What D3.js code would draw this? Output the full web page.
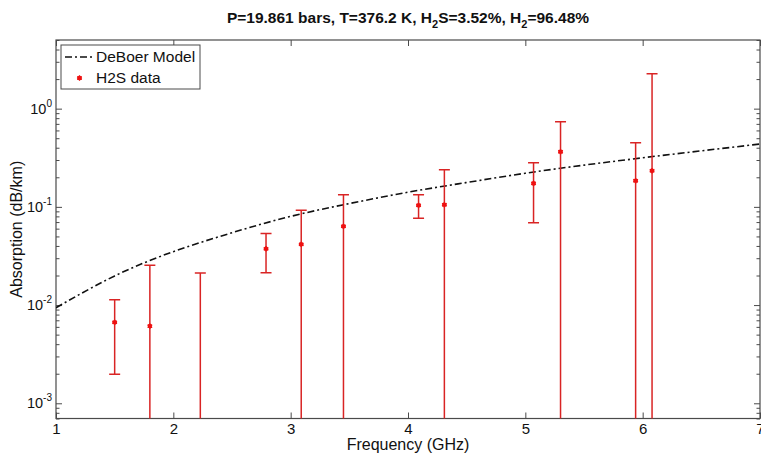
<!DOCTYPE html>
<html>
<head>
<meta charset="utf-8">
<script src="https://cdn.jsdelivr.net/npm/d3@7"></script>
<style>
  html, body { margin: 0; padding: 0; background: #fff; }
  svg { display: block; font-family: "Liberation Sans", Arial, sans-serif; }
</style>
</head>
<body>
<svg id="chart" width="761" height="457"></svg>
<script>
// Measured absorption of H2S/H2 mixture with 1-sigma error bounds
const freqGHz   = [1.50, 1.80, 2.23, 2.79, 3.09, 3.45, 4.09, 4.31, 5.07, 5.30, 5.94, 6.08];
const absorb    = [0.00667, 0.00611, -0.002, 0.0374, 0.0415, 0.0633, 0.1036, 0.105, 0.1734, 0.364, 0.1845, 0.233];
const absorbHi  = [0.01132, 0.0255, 0.0212, 0.0537, 0.0921, 0.1328, 0.1328, 0.2387, 0.281, 0.736, 0.45, 2.265];
const absorbLo  = [0.00198, -0.0133, -0.0252, 0.0213, -0.0091, -0.0062, 0.0764, -0.0287, 0.0689, -0.008, -0.081, -1.80];

// DeBoer model prediction sampled along frequency
const modelFreq = [1.0, 1.5, 2.0, 2.5, 3.0, 3.5, 4.0, 4.5, 5.0, 5.5, 6.0, 6.5, 7.0];
const modelAbs  = [0.0094, 0.0198, 0.0350, 0.0545, 0.0800, 0.1080, 0.1410, 0.1770, 0.2200, 0.2660, 0.3160, 0.3720, 0.4360];

const xTicks = [1, 2, 3, 4, 5, 6, 7];
const yDecades = [-3, -2, -1, 0];
const xDomain = [1, 7];
const yDomain = [7e-4, 5];

const svg = d3.select("#chart");
const pLeft = 56, pRight = 760, pTop = 40, pBottom = 418.5;

const x = d3.scaleLinear().domain(xDomain).range([pLeft, pRight]);
const y = d3.scaleLog().domain(yDomain).range([pBottom, pTop]);

const axisColor = "#4a4a4a";
const red = "#d92424";

// clip region for the plotting area
svg.append("clipPath").attr("id", "plotClip")
  .append("rect").attr("x", pLeft).attr("y", pTop)
  .attr("width", pRight - pLeft).attr("height", pBottom - pTop);

// Title with subscripts
const title = svg.append("text")
  .attr("x", (pLeft + pRight) / 2).attr("y", 23)
  .attr("text-anchor", "middle")
  .attr("font-size", 15.5).attr("font-weight", "bold").attr("fill", "#111");
title.append("tspan").text("P=19.861 bars, T=376.2 K, H");
title.append("tspan").attr("font-size", 11).attr("dy", 5).text("2");
title.append("tspan").attr("dy", -5).text("S=3.52%, H");
title.append("tspan").attr("font-size", 11).attr("dy", 5).text("2");
title.append("tspan").attr("dy", -5).text("=96.48%");

// Axes frame
svg.append("rect")
  .attr("x", pLeft).attr("y", pTop)
  .attr("width", pRight - pLeft).attr("height", pBottom - pTop)
  .attr("fill", "none").attr("stroke", axisColor).attr("stroke-width", 1.2);

// X ticks on bottom and top (inward)
const xAxisBottom = d3.axisBottom(x).tickValues(xTicks).tickSize(-6).tickFormat(d3.format("d")).tickPadding(5);
const gxb = svg.append("g").attr("transform", `translate(0,${pBottom})`).call(xAxisBottom);
gxb.select(".domain").remove();
gxb.selectAll(".tick line").attr("stroke", axisColor);
gxb.selectAll(".tick text").attr("font-size", 15).attr("fill", "#111")
  .attr("font-family", "Liberation Sans, Arial, sans-serif");

const xAxisTop = d3.axisTop(x).tickValues(xTicks).tickSize(-6).tickFormat("");
const gxt = svg.append("g").attr("transform", `translate(0,${pTop})`).call(xAxisTop);
gxt.select(".domain").remove();
gxt.selectAll(".tick line").attr("stroke", axisColor);

// Y ticks: majors at decades, minors 2..9 within the domain
const minorVals = [];
for (let e = -4; e <= 0; e++) {
  for (let m = 2; m <= 9; m++) {
    const v = m * Math.pow(10, e);
    if (v >= yDomain[0] && v <= yDomain[1]) minorVals.push(v);
  }
}
const majorVals = yDecades.map(e => Math.pow(10, e));

function yTicks(axisFn, xpos, size, vals) {
  const g = svg.append("g").attr("transform", `translate(${xpos},0)`)
    .call(axisFn(y).tickValues(vals).tickSize(size).tickFormat(""));
  g.select(".domain").remove();
  g.selectAll(".tick line").attr("stroke", axisColor);
  return g;
}
yTicks(d3.axisLeft, pLeft, -6, majorVals);
yTicks(d3.axisLeft, pLeft, -3.5, minorVals);
yTicks(d3.axisRight, pRight, -6, majorVals);
yTicks(d3.axisRight, pRight, -3.5, minorVals);

// Y tick labels as 10^n
yDecades.forEach(e => {
  const t = svg.append("text")
    .attr("x", pLeft - 4).attr("y", y(Math.pow(10, e)) + 5)
    .attr("text-anchor", "end").attr("font-size", 14.5).attr("fill", "#111");
  t.append("tspan").text("10");
  t.append("tspan").attr("font-size", 10).attr("dy", -7).text(String(e));
});

// Axis labels
svg.append("text")
  .attr("x", (pLeft + pRight) / 2).attr("y", 450)
  .attr("text-anchor", "middle").attr("font-size", 16).attr("fill", "#111")
  .text("Frequency (GHz)");
svg.append("text")
  .attr("transform", `translate(22,${(pTop + pBottom) / 2}) rotate(-90)`)
  .attr("text-anchor", "middle").attr("font-size", 16).attr("fill", "#111")
  .text("Absorption (dB/km)");

const plot = svg.append("g").attr("clip-path", "url(#plotClip)");

// Model curve
const modelPts = modelFreq.map((f, i) => [f, modelAbs[i]]);
plot.append("path")
  .datum(modelPts)
  .attr("fill", "none")
  .attr("stroke", "#111")
  .attr("stroke-width", 1.6)
  .attr("stroke-dasharray", "7,3,2,3")
  .attr("d", d3.line().x(d => x(d[0])).y(d => y(d[1])).curve(d3.curveNatural));

// Error bars
const obs = freqGHz.map((f, i) => ({ f, v: absorb[i], hi: absorbHi[i], lo: absorbLo[i] }));
const capHalf = 5.5;
const yBottomEdge = y.range()[0] + 2;
const yOf = v => (v > 0 ? y(v) : yBottomEdge);

const bars = plot.append("g").attr("stroke", red).attr("stroke-width", 1.5).attr("fill", "none");
obs.forEach(d => {
  bars.append("line").attr("x1", x(d.f)).attr("x2", x(d.f)).attr("y1", yOf(d.hi)).attr("y2", yOf(d.lo));
  bars.append("line").attr("x1", x(d.f) - capHalf).attr("x2", x(d.f) + capHalf).attr("y1", yOf(d.hi)).attr("y2", yOf(d.hi));
  if (d.lo > 0) {
    bars.append("line").attr("x1", x(d.f) - capHalf).attr("x2", x(d.f) + capHalf).attr("y1", yOf(d.lo)).attr("y2", yOf(d.lo));
  }
});

// Data markers (only positive values appear on the log axis)
const marker = d3.symbol().type(d3.symbolAsterisk).size(20);
function drawMarker(sel) {
  sel.append("circle").attr("r", 2.3).attr("fill", "#ee1111");
  sel.append("path").attr("d", marker).attr("fill", "none")
    .attr("stroke", "#ee1111").attr("stroke-width", 1.3);
}
plot.append("g").selectAll("g")
  .data(obs.filter(d => d.v > 0))
  .join("g")
  .attr("transform", d => `translate(${x(d.f)},${y(d.v)})`)
  .call(drawMarker);

// Legend
const lg = svg.append("g");
lg.append("rect").attr("x", 61).attr("y", 45).attr("width", 139).attr("height", 44)
  .attr("fill", "#fff").attr("stroke", axisColor).attr("stroke-width", 1);
lg.append("line").attr("x1", 65).attr("x2", 94).attr("y1", 57).attr("y2", 57)
  .attr("stroke", "#111").attr("stroke-width", 1.6).attr("stroke-dasharray", "7,3,2,3");
lg.append("text").attr("x", 96).attr("y", 62).attr("font-size", 15.5).attr("fill", "#111").text("DeBoer Model");
lg.append("g").attr("transform", "translate(79.5,78)").call(drawMarker);
lg.append("text").attr("x", 96).attr("y", 83).attr("font-size", 15.5).attr("fill", "#111").text("H2S data");
</script>
</body>
</html>
